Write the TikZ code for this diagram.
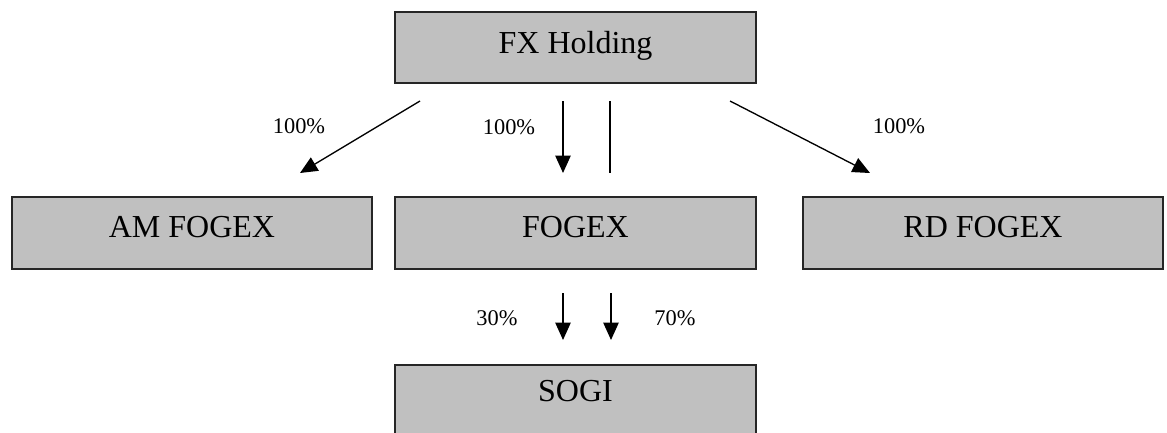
\documentclass[tikz,border=0pt]{standalone}
\usepackage{fontspec}
\setmainfont{Liberation Serif}
\usetikzlibrary{arrows.meta}
\definecolor{boxgray}{HTML}{C0C0C0}
\begin{document}
\begin{tikzpicture}[x=0.75pt,y=-0.75pt,
  entity/.style={draw=black!85,line width=1.2pt,fill=boxgray,rectangle,
    minimum width=270pt,minimum height=54pt,inner sep=0pt,
    font=\fontsize{24}{28}\selectfont,text height=12pt,text depth=5pt},
  pct/.style={font=\fontsize{16.8}{19}\selectfont,inner sep=0pt},
  link/.style={line width=1pt,-{Triangle[length=13pt,width=11.5pt]}},
  plain/.style={line width=1pt}]
\clip (0,0) rectangle (1167,432);
\fill[white] (0,0) rectangle (1167,432);
% boxes
\node[entity,minimum width=270.75pt,minimum height=53.25pt,text height=13pt,text depth=4.5pt] (fx) at (575.5,47.5) {FX Holding};
\node[entity] (am) at (192,233) {AM FOGEX};
\node[entity,minimum width=270.75pt] (fogex) at (575.5,233) {FOGEX};
\node[entity] (rd) at (983,233) {RD FOGEX};
\node[entity,minimum width=270.75pt,minimum height=60pt,text height=5pt,text depth=10pt] (sogi) at (575.5,405) {SOGI};
% connector end points
\coordinate (a1s) at (420,101); \coordinate (a1e) at (300,173);
\coordinate (a2s) at (563,101); \coordinate (a2e) at (563,173);
\coordinate (l1s) at (610,101); \coordinate (l1e) at (610,173);
\coordinate (a3s) at (730,101); \coordinate (a3e) at (870,173);
\coordinate (b1s) at (563,293); \coordinate (b1e) at (563,340);
\coordinate (b2s) at (611,293); \coordinate (b2e) at (611,340);
% connectors
\draw[link] (a1s) -- (a1e);
\draw[link] (a2s) -- (a2e);
\draw[plain] (l1s) -- (l1e);
\draw[link] (a3s) -- (a3e);
\draw[link] (b1s) -- (b1e);
\draw[link] (b2s) -- (b2e);
% labels
\node[pct] (p1) at (299,126) {100\%};
\node[pct] (p2) at (509,127) {100\%};
\node[pct] (p3) at (899,126) {100\%};
\node[pct] (p4) at (497,318) {30\%};
\node[pct] (p5) at (675,318) {70\%};
\end{tikzpicture}
\end{document}
